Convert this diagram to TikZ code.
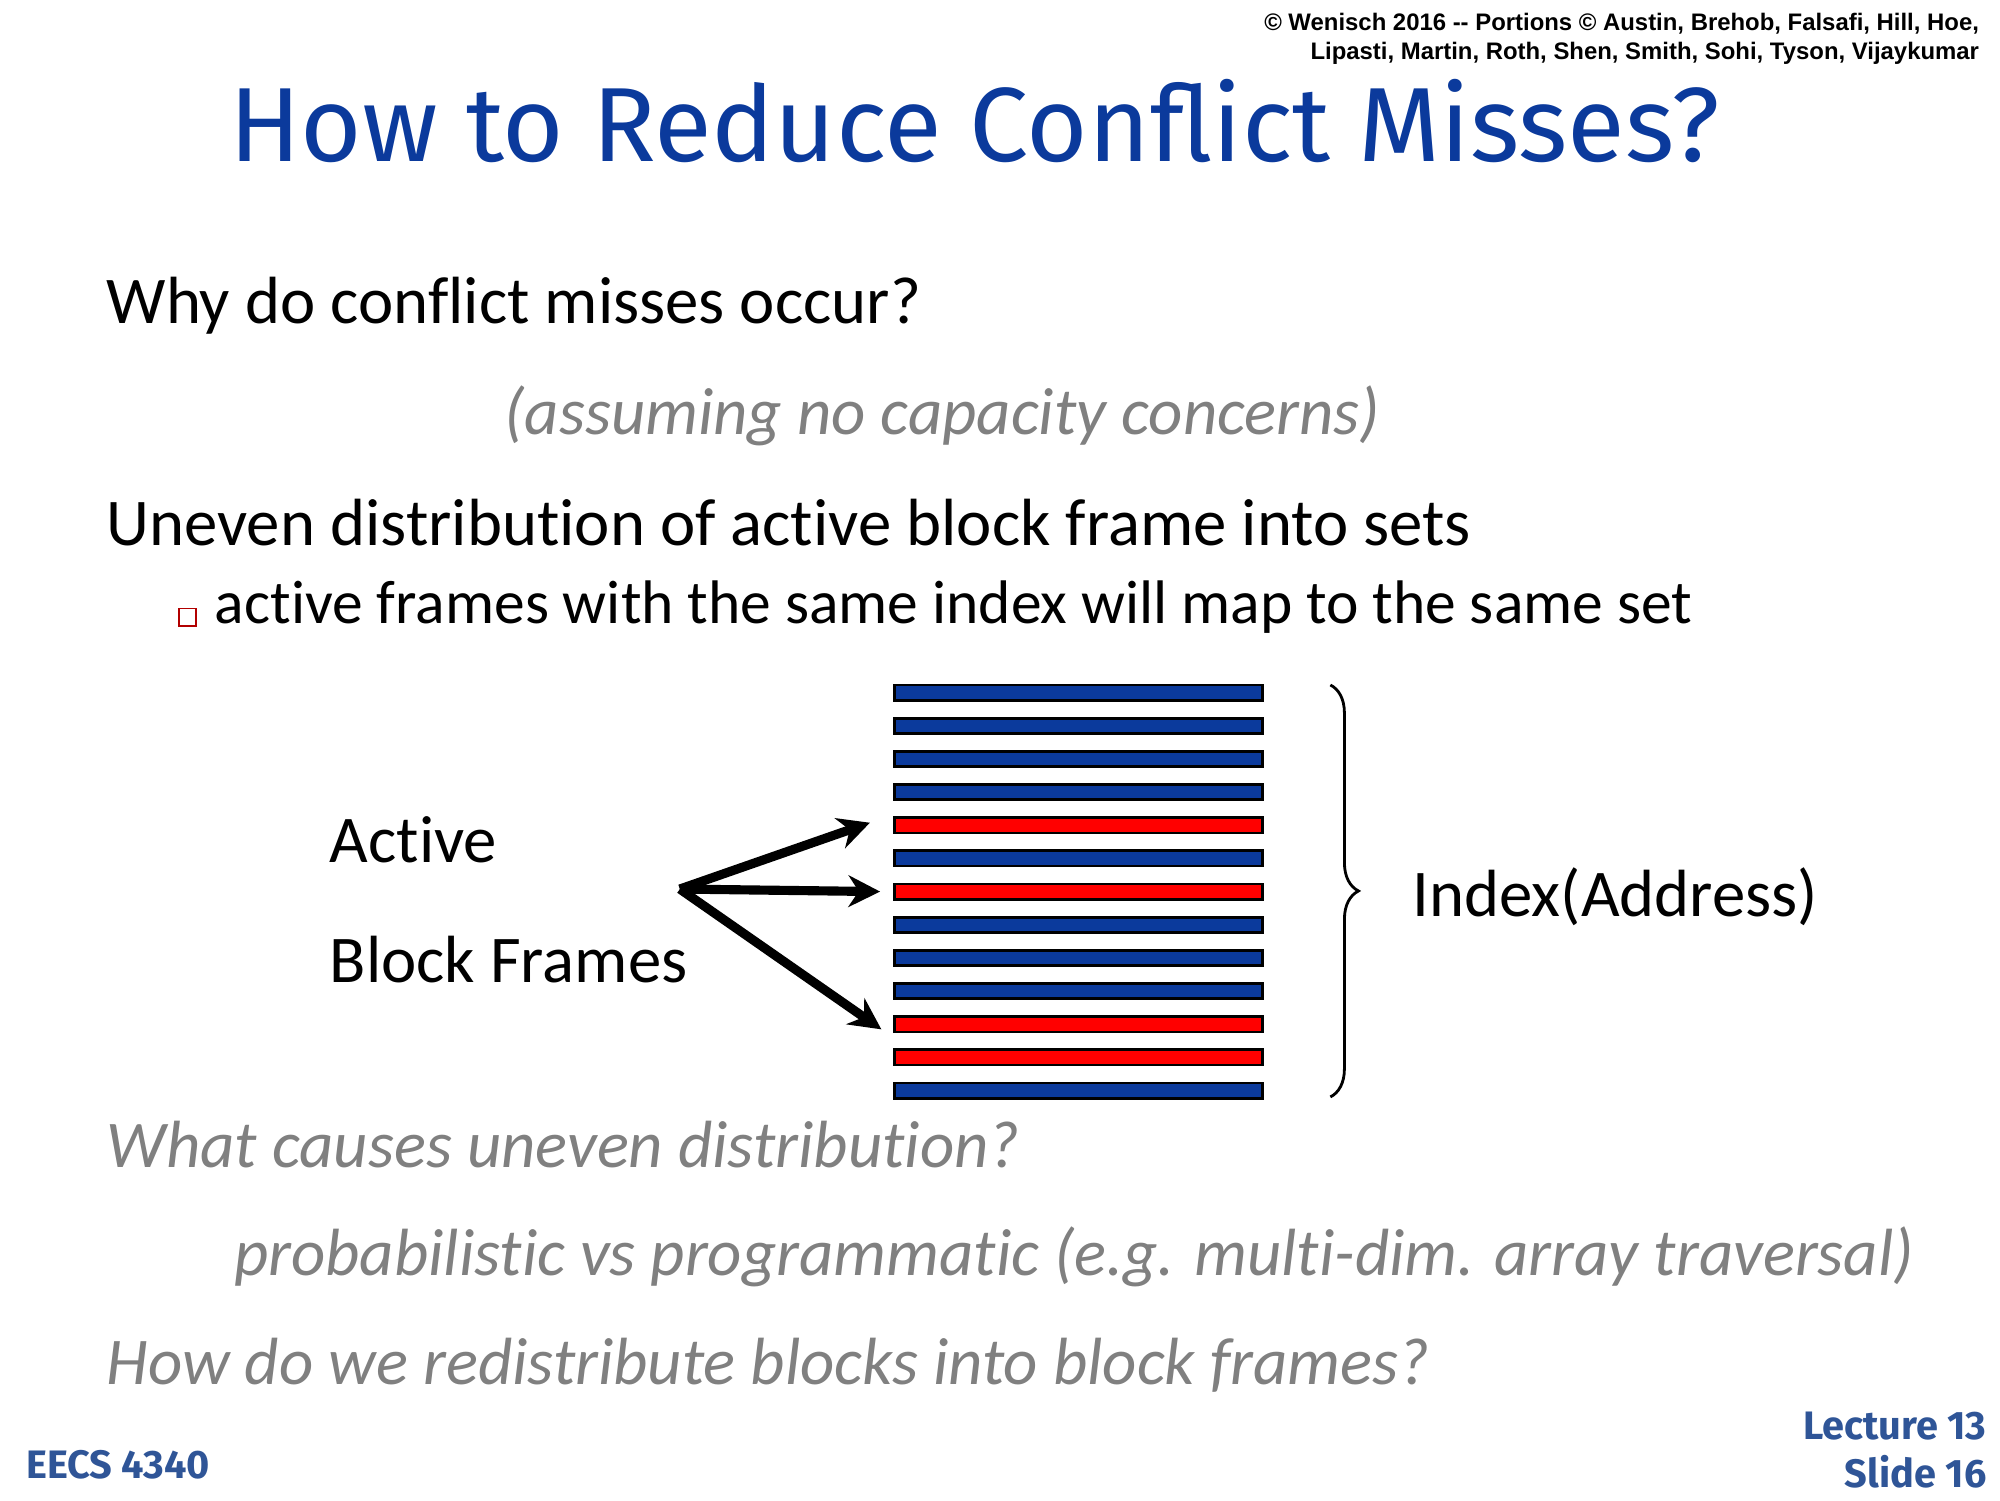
\documentclass[tikz,border=0pt]{standalone}
\usepackage{fontspec}
\setmainfont{Carlito}[Ligatures=NoCommon]
\newfontfamily\titlefont{Fira Sans}
\newfontfamily\notefont{Liberation Sans}
\usetikzlibrary{arrows.meta,decorations.pathreplacing}
\definecolor{slideblue}{HTML}{0B3A9C}
\definecolor{footblue}{HTML}{2F5597}
\definecolor{notegray}{HTML}{808080}
\begin{document}
\begin{tikzpicture}[x=0.012755cm,y=-0.012755cm,
              every node/.style={inner sep=0pt},
              body/.style={anchor=west,font=\fontsize{19}{23}\selectfont},
              aside/.style={anchor=west,text=notegray,font=\fontsize{19}{23}\selectfont\itshape},
              frame/.style={draw=black,line width=0.8pt},
              bluef/.style={frame,fill=slideblue},
              redf/.style={frame,fill=red},
              map/.style={line width=2.6pt,-{Stealth[length=9pt,width=9pt]}}
            ]
  \useasboundingbox (0,0) rectangle (1568,1176);
  % header
  \node[anchor=north east,align=right,font=\notefont\bfseries\fontsize{6.8}{8.2}\selectfont] (copy) at (1552,10)
    {\textcopyright{} Wenisch 2016 -- Portions \textcopyright{} Austin, Brehob, Falsafi, Hill, Hoe,\\
     Lipasti, Martin, Roth, Shen, Smith, Sohi, Tyson, Vijaykumar};
  \node[text=slideblue,font=\titlefont\fontsize{30}{36}\selectfont] (title) at (764,95) {How to Reduce Conflict Misses?};
  % text
  \node[body] (why) at (83,240) {Why do conflict misses occur?};
  \node[aside] (assume) at (395,326) {(assuming no capacity concerns)};
  \node[body] (uneven) at (83,410) {Uneven distribution of active block frame into sets};
  \node[draw=red!70!black,line width=0.5pt,minimum size=5pt] (bullet) at (147,484) {};
  \node[body,font=\fontsize{17.5}{21}\selectfont] (same) at (168,476) {active frames with the same index will map to the same set};
  % frames
  \foreach \i/\c in {0/bluef,1/bluef,2/bluef,3/bluef,4/redf,5/bluef,6/redf,
                     7/bluef,8/bluef,9/bluef,10/redf,11/redf,12/bluef}
    \draw[\c] (701,{537+26*\i}) rectangle (990,{549+26*\i}) coordinate (f\i);
  \node[body] (active) at (258,658) {Active};
  \node[body] (block) at (258,752) {Block Frames};
  \coordinate (src) at (533,697);
  \coordinate (t1) at (682,645);
  \coordinate (t2) at (690,699);
  \coordinate (t3) at (691,807);
  \draw[map] (src) -- (t1);
  \draw[map] (src) -- (t2);
  \draw[map] (src) -- (t3);
  \coordinate (btop) at (1043,537);
  \coordinate (bbot) at (1043,860);
  \draw[decorate,decoration={brace,amplitude=8pt},line width=0.8pt] (btop) -- (bbot);
  \node[body] (index) at (1107,703) {Index(Address)};
  % questions
  \node[aside] (cause) at (83,897) {What causes uneven distribution?};
  \node[aside] (prob) at (183,985) {probabilistic vs programmatic (e.g. multi-dim. array traversal)};
  \node[aside] (redist) at (83,1070) {How do we redistribute blocks into block frames?};
  % footer
  \node[anchor=west,text=footblue,font=\titlefont\bfseries\fontsize{11.3}{13}\selectfont] (course) at (20,1148) {EECS 4340};
  \node[anchor=east,align=right,text=footblue,font=\titlefont\bfseries\fontsize{11.3}{13.5}\selectfont] (slide) at (1558,1137) {Lecture 13\\Slide 16};
\end{tikzpicture}
\end{document}
